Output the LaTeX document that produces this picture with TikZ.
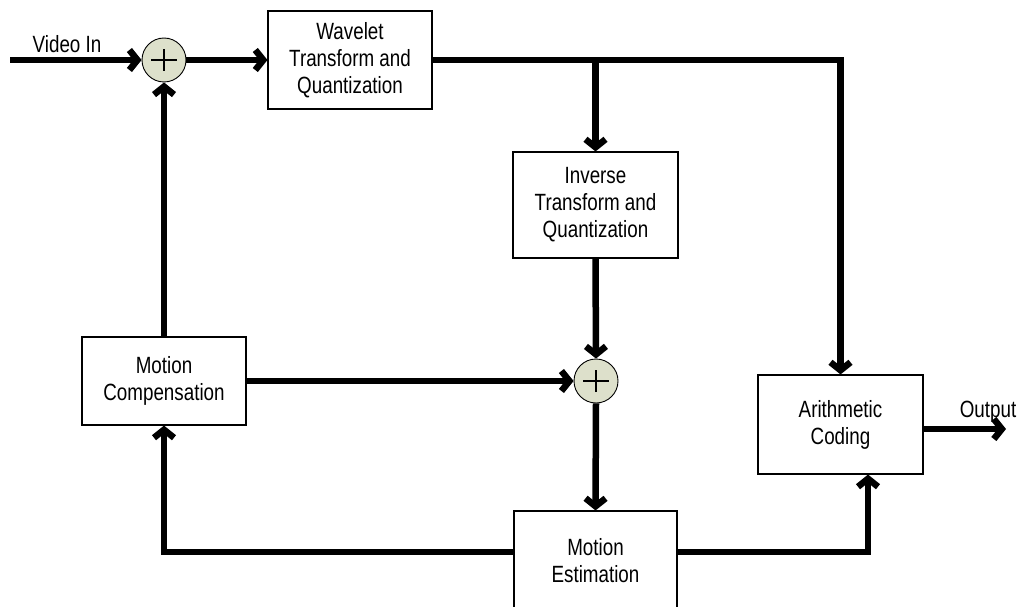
\documentclass[tikz,border=0pt]{standalone}
\usepackage{fontspec}
\setmainfont{Liberation Sans}[FakeStretch=0.8]
\usetikzlibrary{arrows.meta,calc}
\definecolor{sumfill}{HTML}{DDE0CB}
\tikzset{
  blk/.style={draw, line width=1.1pt, inner sep=0pt, align=center,
    font=\fontsize{23.5}{27}\selectfont},
  sumnode/.style={circle, draw, line width=0.9pt, fill=sumfill, minimum size=44pt, inner sep=0pt,
    path picture={\draw[line width=1.1pt] ([xshift=-13pt]path picture bounding box.center) -- ([xshift=13pt]path picture bounding box.center)
      ([yshift=-11pt]path picture bounding box.center) -- ([yshift=11pt]path picture bounding box.center);}},
  flow/.style={line width=6.5pt, -{Straight Barb[length=8pt,width=20pt]}},
  lbl/.style={font=\fontsize{23.5}{27}\selectfont, inner sep=0pt, anchor=base}
}
\begin{document}
\begin{tikzpicture}[x=1pt,y=-1pt]
\useasboundingbox (0,0) rectangle (1023,607);
\node[blk, minimum width=164pt, minimum height=98pt] (wav) at (350,60) {Wavelet\\Transform and\\Quantization};
\node[blk, minimum width=165pt, minimum height=106pt] (inv) at (595.5,205) {Inverse\\Transform and\\Quantization};
\node[blk, minimum width=164pt, minimum height=88pt] (mc) at (164,381) {Motion\\Compensation};
\node[blk, minimum width=165pt, minimum height=99pt] (ac) at (840.5,424.5) {Arithmetic\\Coding};
\node[blk, minimum width=163pt, minimum height=100pt] (me) at (595.5,561) {Motion\\Estimation};
\node[sumnode] (s1) at (164,60) {};
\node[sumnode] (s2) at (596,381) {};
\coordinate (vin) at (10,60);
\coordinate (out) at (1006,429);
\node[lbl] (vinl) at (67,53) {Video In};
\node[lbl] (outl) at (988,417) {Output};

\draw[flow] (vin) -- (s1.west);
\draw[flow] (s1.east) -- (wav.west);
\draw[flow] (wav.east) -- (wav.east -| ac.north) -- (ac.north);
\draw[flow] (wav.east -| inv.north) -- (inv.north);
\draw[flow] (inv.south) -- (s2.north);
\draw[flow] (mc.east) -- (s2.west);
\draw[flow] (mc.north) -- (s1.south);
\draw[flow] (s2.south) -- (me.north);
\draw[flow] ([yshift=9pt]me.west) -| (mc.south);
\draw[flow] ([yshift=9pt]me.east) -| ([xshift=27.5pt]ac.south);
\draw[flow] ([yshift=-4.5pt]ac.east) -- (out);
\end{tikzpicture}
\end{document}
